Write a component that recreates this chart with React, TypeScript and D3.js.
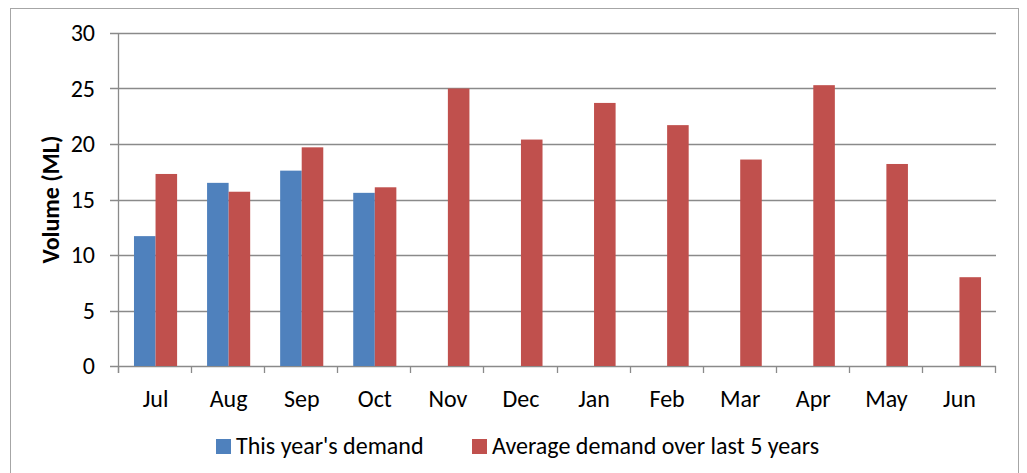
import * as d3 from "d3";
import React, { useEffect, useRef } from "react";

const months = ["Jul", "Aug", "Sep", "Oct", "Nov", "Dec", "Jan", "Feb", "Mar", "Apr", "May", "Jun"];
const thisYear = [11.7, 16.5, 17.6, 15.6, null, null, null, null, null, null, null, null];
const average5 = [17.3, 15.7, 19.7, 16.1, 25.0, 20.4, 23.7, 21.7, 18.6, 25.3, 18.2, 8.0];
const yTicks = [0, 5, 10, 15, 20, 25, 30];
const seriesNames = ["This year's demand", "Average demand over last 5 years"];
const seriesColors = ["#4F81BD", "#C0504D"];

const FONT = "Carlito, Calibri, 'Open Sans', sans-serif";

function App() {
  const ref = useRef<SVGSVGElement>(null);

  useEffect(() => {
    const width = 1027;
    const height = 473;
    const margin = { top: 33, left: 119, bottom: 107, right: 31 };
    const iwidth = width - margin.left - margin.right;
    const iheight = height - margin.top - margin.bottom;

    const svg = d3.select(ref.current);
    svg.selectAll("*").remove();

    // outer chart border
    svg.append("rect")
      .attr("x", 10.5).attr("y", 8.5)
      .attr("width", 1008).attr("height", 480)
      .attr("fill", "white")
      .attr("stroke", "#a6a6a6");

    const graph = svg.append("g").attr("transform", `translate(${margin.left}, ${margin.top})`);

    const x = d3.scaleBand().domain(months).range([0, iwidth]).paddingInner(0.41).paddingOuter(0.205);
    const xs = d3.scaleBand().domain(["0", "1"]).range([0, x.bandwidth()]);
    const y = d3.scaleLinear().domain([0, 30]).range([iheight, 0]);

    // gridlines
    graph.append("g").selectAll("line").data(yTicks).enter().append("line")
      .attr("x1", -9).attr("x2", iwidth)
      .attr("y1", d => Math.round(y(d)) + 0.5).attr("y2", d => Math.round(y(d)) + 0.5)
      .attr("stroke", "#8a8a8a").attr("stroke-width", 1.3);

    const series = [thisYear, average5];
    series.forEach((vals, si) => {
      graph.append("g").selectAll("rect")
        .data(months.map((m, i) => ({ m, v: vals[i] })).filter(d => d.v != null))
        .enter().append("rect")
        .attr("x", d => (x(d.m) as number) + (xs(String(si)) as number))
        .attr("y", d => y(d.v as number))
        .attr("width", xs.bandwidth())
        .attr("height", d => iheight - y(d.v as number))
        .attr("fill", seriesColors[si]);
    });

    // y axis
    graph.append("line")
      .attr("x1", -0.5).attr("x2", -0.5).attr("y1", 0).attr("y2", iheight + 7)
      .attr("stroke", "#8a8a8a").attr("stroke-width", 1.3);
    graph.append("g").selectAll("text").data(yTicks).enter().append("text")
      .attr("x", -24).attr("y", d => y(d))
      .attr("dy", "0.35em")
      .attr("text-anchor", "end")
      .attr("font-family", FONT).attr("font-size", 24)
      .attr("fill", "#000")
      .text(d => d);

    // x axis ticks
    graph.append("g").selectAll("line").data(d3.range(months.length + 1)).enter().append("line")
      .attr("x1", i => Math.round(i * x.step()) - 0.5).attr("x2", i => Math.round(i * x.step()) - 0.5)
      .attr("y1", iheight).attr("y2", iheight + 7)
      .attr("stroke", "#8a8a8a").attr("stroke-width", 1.3);
    graph.append("g").selectAll("text").data(months).enter().append("text")
      .attr("x", d => (x(d) as number) + x.bandwidth() / 2)
      .attr("y", iheight + 41)
      .attr("text-anchor", "middle")
      .attr("font-family", FONT).attr("font-size", 24)
      .text(d => d);

    // y title
    svg.append("text")
      .attr("transform", `translate(${59}, ${margin.top + iheight / 2}) rotate(-90)`)
      .attr("text-anchor", "middle")
      .attr("font-family", FONT).attr("font-size", 24).attr("font-weight", "bold")
      .text("Volume (ML)");

    // legend
    const legendX = [216, 472];
    const lg = svg.append("g");
    seriesNames.forEach((name, i) => {
      lg.append("rect").attr("x", legendX[i]).attr("y", 439).attr("width", 15).attr("height", 15)
        .attr("fill", seriesColors[i]);
      lg.append("text").attr("x", legendX[i] + 20).attr("y", 454)
        .attr("font-family", FONT).attr("font-size", 24)
        .text(name);
    });
  }, []);

  return (
    <div style={{ position: "absolute", left: 0, top: 0 }}>
      <svg ref={ref} width={1027} height={473}></svg>
    </div>
  );
}

export default App;
